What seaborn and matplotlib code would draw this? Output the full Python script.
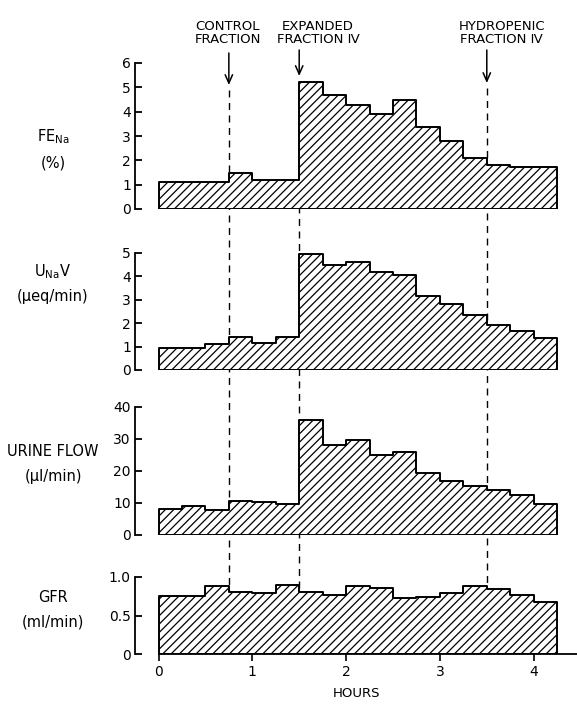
import numpy as np
import pandas as pd
import matplotlib
matplotlib.use("Agg")
import matplotlib.pyplot as plt
import seaborn as sns

# ---------------- data ----------------
bin_edges = [0, 0.25, 0.5, 0.75, 1.0, 1.25, 1.5, 1.75, 2.0, 2.25, 2.5,
             2.75, 3.0, 3.25, 3.5, 3.75, 4.0, 4.25]
fe_na = [1.10, 1.10, 1.10, 1.48, 1.20, 1.20, 5.20, 4.69, 4.26, 3.92, 4.46,
         3.36, 2.78, 2.10, 1.82, 1.72, 1.72]
u_na_v = [0.96, 0.96, 1.11, 1.43, 1.16, 1.40, 4.96, 4.50, 4.63, 4.18, 4.07,
          3.16, 2.80, 2.34, 1.91, 1.68, 1.36]
urine_flow = [8.2, 9.1, 7.9, 10.7, 10.2, 9.6, 35.9, 28.2, 29.7, 24.9, 25.8,
              19.3, 16.9, 15.3, 14.0, 12.6, 9.6]
gfr = [0.75, 0.75, 0.88, 0.80, 0.79, 0.89, 0.80, 0.77, 0.88, 0.86, 0.73,
       0.745, 0.795, 0.88, 0.85, 0.76, 0.67]

event_hours = [0.75, 1.5, 3.5]
event_labels = ["CONTROL\nFRACTION", "EXPANDED\nFRACTION \u2163", "HYDROPENIC\nFRACTION \u2163"]

panel_labels = ["FE$_{\\mathrm{Na}}$", "U$_{\\mathrm{Na}}$V", "URINE FLOW", "GFR"]
panel_units = ["(%)", "(\u03bceq/min)", "(\u03bcl/min)", "(ml/min)"]
y_ticks = [[0, 1, 2, 3, 4, 5, 6], [0, 1, 2, 3, 4, 5], [0, 10, 20, 30, 40], [0, 0.5, 1.0]]
y_ticklabels = [["0", "1", "2", "3", "4", "5", "6"], ["0", "1", "2", "3", "4", "5"],
                ["0", "10", "20", "30", "40"], ["0", "0.5", "1.0"]]
x_ticks = [0, 1, 2, 3, 4]
x_label = "HOURS"

centers = [(a + b) / 2 for a, b in zip(bin_edges[:-1], bin_edges[1:])]
series = [fe_na, u_na_v, urine_flow, gfr]
df = pd.concat([pd.DataFrame({"hour": centers, "value": s, "panel": i})
                for i, s in enumerate(series)], ignore_index=True)

# ---------------- style ----------------
sns.set_theme(style="white")
plt.rcParams["font.family"] = ["DejaVu Sans"]
plt.rcParams["text.color"] = "black"
plt.rcParams["hatch.linewidth"] = 0.9
plt.rcParams["hatch.color"] = "black"

W, H = 577, 704
fig = plt.figure(figsize=(W / 100, H / 100), dpi=100)

x0_px, px_per_h, spine_px = 158.5, 93.8, 135
xlim = ((spine_px - x0_px) / px_per_h, (W - x0_px) / px_per_h)
ax_left = spine_px / W
ax_width = (W - spine_px) / W

# (top, bottom) pixel rows of each panel
rows = [(63, 209), (253, 370), (407, 535), (577, 654)]
label_y = [(137, 163), (272, 296), (452, 476), (598, 622)]

# overlay axes for arrows / dashed lines (behind panels)
ov = fig.add_axes([ax_left, 0, ax_width, 1], zorder=0)
ov.set_xlim(*xlim)
ov.set_ylim(H, 0)
ov.axis("off")

axes = []
for i, (top, bot) in enumerate(rows):
    ax = fig.add_axes([ax_left, 1 - bot / H, ax_width, (bot - top) / H], zorder=1)
    ax.patch.set_alpha(0)
    sns.histplot(data=df[df["panel"] == i], x="hour", weights="value",
                 bins=bin_edges, element="step", fill=True, ax=ax,
                 facecolor="white", edgecolor="black", linewidth=1.4,
                 hatch="////", alpha=1)
    ax.set_xlim(*xlim)
    ax.set_ylim(0, y_ticks[i][-1])
    ax.set_xlabel("")
    ax.set_ylabel("")
    ax.set_yticks(y_ticks[i])
    ax.set_yticklabels(y_ticklabels[i])
    for s in ["top", "right"]:
        ax.spines[s].set_visible(False)
    ax.spines["left"].set_linewidth(1.3)
    ax.spines["left"].set_color("black")
    ax.tick_params(axis="y", direction="in", length=5, width=1.3, pad=3,
                   labelsize=10, colors="black", left=True)
    if i < 3:
        ax.spines["bottom"].set_visible(False)
        ax.set_xticks([])
    else:
        ax.spines["bottom"].set_linewidth(1.3)
        ax.spines["bottom"].set_color("black")
        ax.spines["bottom"].set_bounds(0, xlim[1])
        ax.set_xticks(x_ticks)
        ax.set_xticklabels([str(t) for t in x_ticks])
        ax.tick_params(axis="x", direction="out", length=5, width=1.2, pad=3,
                       labelsize=10, colors="black", bottom=True)
        ax.set_xlabel(x_label, fontsize=9.5, labelpad=6, color="black")
    axes.append(ax)
    fig.text(53 / W, 1 - label_y[i][0] / H, panel_labels[i], ha="center",
             va="center", fontsize=10.5, color="black")
    fig.text(53 / W, 1 - label_y[i][1] / H, panel_units[i], ha="center",
             va="center", fontsize=10.5, color="black")

# event markers
text_x = [0.74, 1.70, 3.66]
arrow_tail = [53, 50, 50]
arrow_tip = [85, 76, 83]
for t, lab, tx, a0, a1 in zip(event_hours, event_labels, text_x, arrow_tail, arrow_tip):
    ov.annotate("", xy=(t, a1), xytext=(t, a0),
                arrowprops=dict(arrowstyle="->,head_length=0.5,head_width=0.22",
                                lw=1.1, color="black", shrinkA=0, shrinkB=0))
    ov.text(tx, 33, lab, ha="center", va="center", fontsize=9.5, linespacing=1.0)
ov.vlines(event_hours, [a + 5 for a in arrow_tip], rows[3][1], colors="black",
          linestyles=(0, (5, 4)), linewidth=1.0)

fig.savefig("out.png", dpi=100, facecolor="white")
